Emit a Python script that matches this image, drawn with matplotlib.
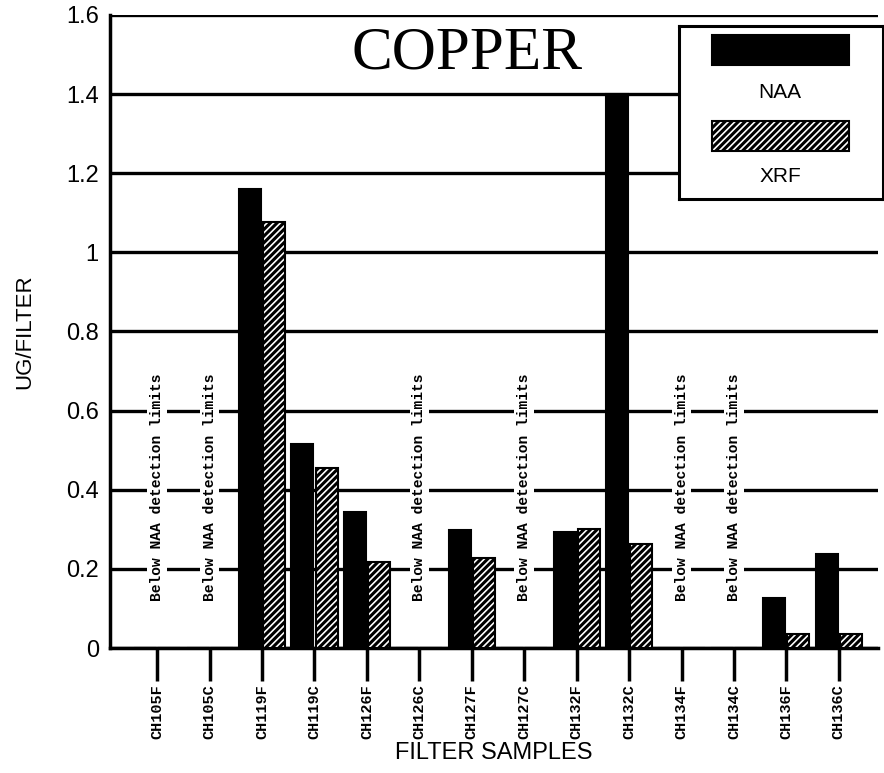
import numpy as np
import matplotlib.pyplot as plt
from matplotlib.patches import Rectangle

# Dados
samples = ['CH105F', 'CH105C', 'CH119F', 'CH119C', 'CH126F', 'CH126C', 'CH127F',
           'CH127C', 'CH132F', 'CH132C', 'CH134F', 'CH134C', 'CH136F', 'CH136C']
naa = [0, 0, 1.16, 0.515, 0.343, 0, 0.298, 0, 0.292, 1.40, 0, 0, 0.126, 0.238]
xrf = [0, 0, 1.077, 0.455, 0.218, 0, 0.228, 0, 0.300, 0.262, 0, 0, 0.036, 0.036]
below_limit = ['CH105F', 'CH105C', 'CH126C', 'CH127C', 'CH134F', 'CH134C']
yticks = [0, 0.2, 0.4, 0.6, 0.8, 1, 1.2, 1.4, 1.6]
ytick_labels = ['0', '0.2', '0.4', '0.6', '0.8', '1', '1.2', '1.4', '1.6']

sans = 'Liberation Sans'
plt.rcParams['hatch.linewidth'] = 2.2

fig = plt.figure(figsize=(8.84, 7.73), dpi=100)
ax = fig.add_axes([0.1244, 0.1617, 0.869, 0.819])

x = np.arange(len(samples))
w = 0.42
ax.bar(x - 0.23, naa, w, color='black', edgecolor='black', lw=1.5, zorder=3)
ax.bar(x + 0.23, xrf, w, color='white', edgecolor='black', hatch='/////', lw=1.5, zorder=3)

for s in below_limit:
    i = samples.index(s)
    ax.text(i, 0.12, 'Below NAA detection limits', rotation=90, ha='center', va='bottom',
            family='Liberation Mono', weight='bold', fontsize=10.5, zorder=4,
            bbox=dict(facecolor='white', edgecolor='none', pad=2))

ax.set_xlim(-0.9, 13.75)
ax.set_ylim(0, 1.6)
ax.set_yticks(yticks)
ax.set_yticklabels(ytick_labels, family=sans, fontsize=17)
ax.set_xticks(x)
ax.set_xticklabels(samples, rotation=90, family='Liberation Mono', weight='bold', fontsize=11)
ax.tick_params(axis='x', length=24, width=2.5, direction='out', pad=2)
ax.tick_params(axis='y', length=0, pad=8)
ax.yaxis.grid(True, color='black', lw=2.4, zorder=1)
ax.set_axisbelow(True)
for sp in ['top', 'right']:
    ax.spines[sp].set_visible(False)
for sp in ['left', 'bottom']:
    ax.spines[sp].set_linewidth(2.5)

ax.set_ylabel('UG/FILTER', family=sans, fontsize=16, labelpad=22)
ax.set_xlabel('FILTER SAMPLES', family=sans, fontsize=17, labelpad=2)

ax.text(0.465, 0.938, 'COPPER', transform=ax.transAxes, ha='center', va='center',
        family='Liberation Serif', fontsize=44, zorder=5)

# Legenda desenhada a mao
lg = fig.add_axes([679 / 884, 1 - 199 / 773, 204 / 884, 173 / 773])
lg.set_xlim(0, 204)
lg.set_ylim(173, 0)
lg.set_xticks([])
lg.set_yticks([])
for sp in lg.spines.values():
    sp.set_linewidth(2.2)
lg.add_patch(Rectangle((33, 9), 137, 30, facecolor='black', edgecolor='black', lw=1.5))
lg.add_patch(Rectangle((33, 95), 137, 30, facecolor='white', edgecolor='black', hatch='/////', lw=1.5))
lg.text(101, 67, 'NAA', ha='center', va='center', family=sans, fontsize=15)
lg.text(101, 151, 'XRF', ha='center', va='center', family=sans, fontsize=15)

fig.savefig('out.png', dpi=100)
